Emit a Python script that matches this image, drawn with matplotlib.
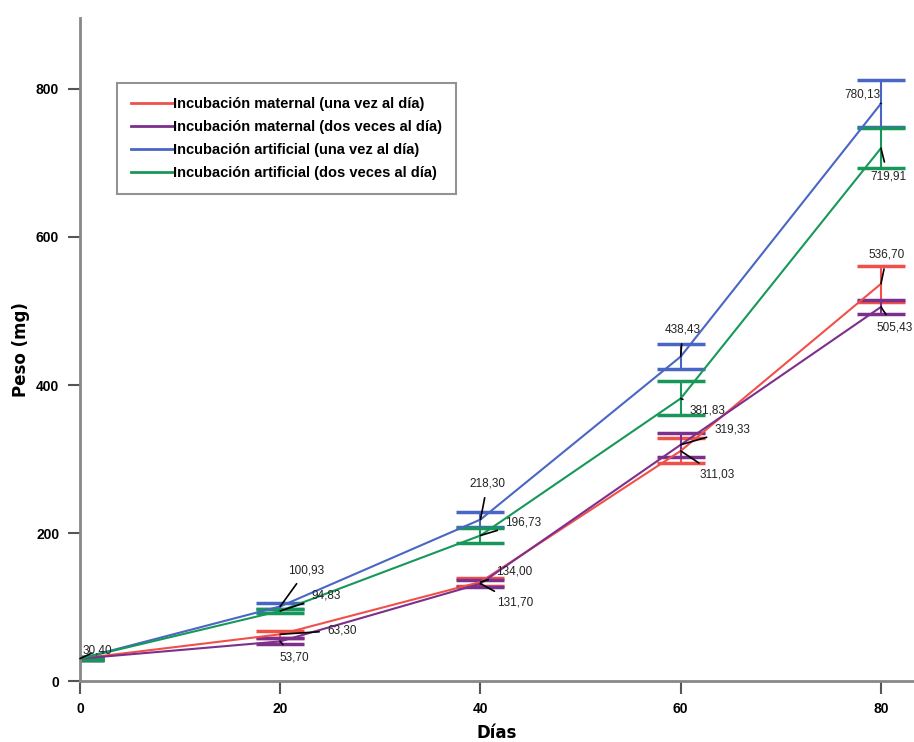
import matplotlib
matplotlib.use('Agg')
import matplotlib.pyplot as plt
from matplotlib.lines import Line2D
import numpy as np

plt.rcParams['font.family'] = ['Liberation Sans', 'DejaVu Sans']

# Data
dias = [0, 20, 40, 60, 80]
series_names = ['Incubación maternal (una vez al día)',
                'Incubación maternal (dos veces al día)',
                'Incubación artificial (una vez al día)',
                'Incubación artificial (dos veces al día)']
mat_una = [30.40, 63.30, 134.00, 311.03, 536.70]
mat_dos = [30.40, 53.70, 131.70, 319.33, 505.43]
art_una = [30.40, 100.93, 218.30, 438.43, 780.13]
art_dos = [30.40, 94.83, 196.73, 381.83, 719.91]
err_mat_una = [2, 5, 5, 17, 24]
err_mat_dos = [2, 4, 5, 16, 10]
err_art_una = [2, 4, 10, 17, 32]
err_art_dos = [2, 3, 10, 23, 27]

colors = ['#f0504a', '#7d2f8c', '#4a66c4', '#17985a']

# label offsets (pixels) for each point: (dx, dy)
offsets = [
    [(17, 8), (62, 4), (34, 10), (36, -24), (6, 29)],
    [None, (14, -16), (35, -19), (52, 15), (14, -21)],
    [None, (26, 36), (7, 36), (2, 27), (-19, 9)],
    [None, (46, 15), (43, 13), (27, -12), (7, -28)],
]

fig = plt.figure(figsize=(9.14, 7.42), dpi=100)
ax = fig.add_axes([0.0875, 0.082, 0.9125, 0.894])

allvals = [mat_una, mat_dos, art_una, art_dos]
allerr = [err_mat_una, err_mat_dos, err_art_una, err_art_dos]

for vals, errs, c, name, offs in zip(allvals, allerr, colors, series_names, offsets):
    ax.errorbar(dias, vals, yerr=errs, color=c, lw=1.5, elinewidth=1.5,
                capsize=17, capthick=2.5)
    for x, v, o in zip(dias, vals, offs):
        if o is None:
            continue
        ax.annotate(('%.2f' % v).replace('.', ','), xy=(x, v), xytext=o,
                    textcoords='offset pixels', ha='center', va='center',
                    fontsize=8.5, color='#222222',
                    arrowprops=dict(arrowstyle='-', color='black', lw=1.2,
                                    shrinkA=4, shrinkB=0))

ax.set_xlim(0, 83.3)
ax.set_ylim(0, 896)
ax.set_xticks([0, 20, 40, 60, 80])
ax.set_yticks([0, 200, 400, 600, 800])
for s in ['top', 'right']:
    ax.spines[s].set_visible(False)
for s in ['left', 'bottom']:
    ax.spines[s].set_color('#888888')
    ax.spines[s].set_linewidth(2)
ax.tick_params(length=9, width=1.5, color='#555555', labelsize=10, pad=6)
for lab in ax.get_xticklabels() + ax.get_yticklabels():
    lab.set_fontweight('bold')

ax.set_ylabel('Peso (mg)', fontsize=12, fontweight='bold', family=['DejaVu Sans'])
ax.set_xlabel('Días', fontsize=12, fontweight='bold', family=['DejaVu Sans'], labelpad=6)

handles = [Line2D([], [], color=c, lw=2) for c in colors]
leg = ax.legend(handles, series_names, loc='upper left',
                bbox_to_anchor=(0.036, 0.9125), frameon=True,
                fancybox=False, handlelength=2.9, handletextpad=0.0,
                borderpad=0.95, labelspacing=0.62,
                prop={'weight': 'bold', 'size': 10.5})
leg.get_frame().set_edgecolor('#777777')
leg.get_frame().set_linewidth(1.5)

fig.savefig('out.png', dpi=100)
